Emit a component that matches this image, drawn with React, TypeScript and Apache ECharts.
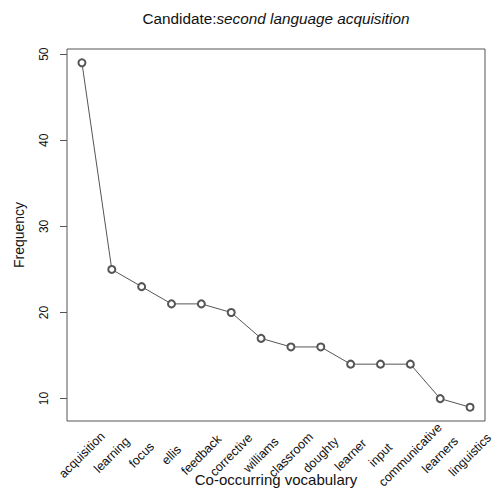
import React, { useEffect, useRef } from "react";
import * as echarts from "echarts";

const categories = [
  "acquisition", "learning", "focus", "ellis", "feedback", "corrective", "williams",
  "classroom", "doughty", "learner", "input", "communicative", "learners", "linguistics",
];
const frequency = [49, 25, 23, 21, 21, 20, 17, 16, 16, 14, 14, 14, 10, 9];
const yTicks = [10, 20, 30, 40, 50];
const titlePlain = "Candidate:";
const titleItalic = "second language acquisition";
const xName = "Co-occurring vocabulary";
const yName = "Frequency";

const FONT = "'Liberation Sans', Arial, Helvetica, sans-serif";

export default function App() {
  const ref = useRef<HTMLDivElement>(null);
  useEffect(() => {
    if (!ref.current) return;
    const chart = echarts.init(ref.current, null, { renderer: "svg" });
    const gridLeft = 67, gridTop = 49, gridW = 418, gridH = 372;
    chart.setOption({
      animation: false,
      backgroundColor: "#fff",
      textStyle: { fontFamily: FONT },
      graphic: [
        {
          type: "text",
          x: gridLeft + gridW / 2,
          y: 18,
          style: {
            text: `{a|${titlePlain}}{b|${titleItalic}}`,
            align: "center",
            verticalAlign: "middle",
            rich: {
              a: { fontFamily: FONT, fontSize: 15.3, fill: "#111" },
              b: { fontFamily: FONT, fontSize: 15.3, fontStyle: "italic", fill: "#111" },
            },
          },
        },
      ],
      grid: {
        left: gridLeft,
        top: gridTop,
        width: gridW,
        height: gridH,
        show: true,
        borderColor: "#555",
        borderWidth: 1,
        backgroundColor: "transparent",
        containLabel: false,
        outerBoundsMode: "none",
      },
      xAxis: {
        type: "category",
        data: categories,
        boundaryGap: true,
        name: xName,
        nameLocation: "middle",
        nameGap: 51,
        nameMoveOverlap: false,
        nameTextStyle: { fontFamily: FONT, fontSize: 15, color: "#111" },
        axisLine: { show: false },
        axisTick: { show: false },
        splitLine: { show: false },
        axisLabel: {
          interval: 0,
          rotate: 45,
          margin: 34,
          align: "center",
          verticalAlign: "middle",
          fontFamily: FONT,
          fontSize: 12.5,
          color: "#111",
          hideOverlap: false,
        },
      },
      yAxis: {
        type: "value",
        min: 7.4,
        max: 50.6,
        name: yName,
        nameLocation: "middle",
        nameGap: 41,
        nameRotate: 90,
        nameMoveOverlap: false,
        nameTextStyle: { fontFamily: FONT, fontSize: 14, color: "#111" },
        axisLine: { show: false },
        splitLine: { show: false },
        axisTick: {
          show: true,
          customValues: yTicks,
          length: 7,
          lineStyle: { color: "#555", width: 1 },
        },
        axisLabel: {
          customValues: yTicks,
          rotate: 90,
          margin: 17,
          fontFamily: FONT,
          fontSize: 12,
          color: "#111",
          showMinLabel: true,
          showMaxLabel: true,
        },
      },
      series: [
        {
          type: "line",
          data: frequency,
          symbol: "emptyCircle",
          symbolSize: 7,
          showAllSymbol: true,
          lineStyle: { color: "#555", width: 1 },
          itemStyle: { color: "#555", borderColor: "#555", borderWidth: 0.75 },
          emphasis: { disabled: true },
        },
      ],
    });
    return () => chart.dispose();
  }, []);
  return (
    <div
      ref={ref}
      style={{ position: "fixed", left: 0, top: 0, width: 495, height: 490, background: "#fff" }}
    />
  );
}
